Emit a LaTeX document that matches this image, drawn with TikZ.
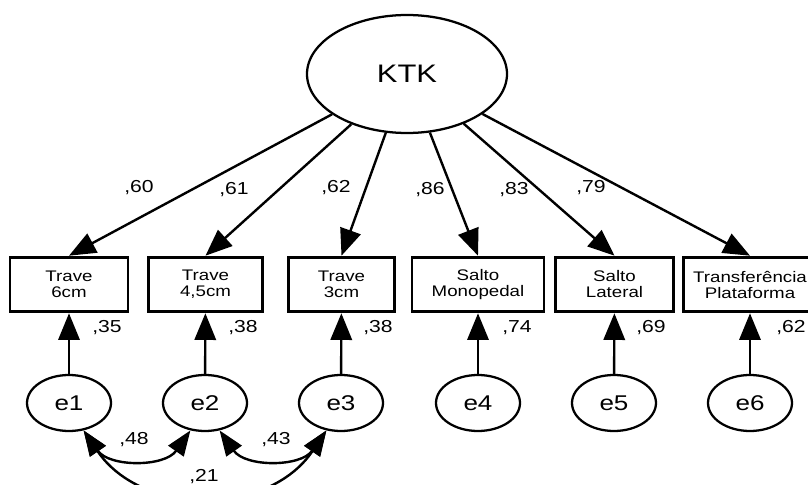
\documentclass[tikz,border=0pt]{standalone}
\usepackage{fontspec}
\setmainfont{Liberation Sans}[FakeStretch=1.22]
\usetikzlibrary{arrows.meta,shapes.geometric}

\begin{document}
\begin{tikzpicture}[x=0.75pt,y=-0.75pt,
  latent/.style={ellipse,draw,line width=1.7pt,inner sep=0pt},
  obs/.style={rectangle,draw,line width=2.2pt,minimum height=41pt,inner sep=0pt,align=center,font=\fontsize{11.5}{12}\selectfont},
  err/.style={ellipse,draw,line width=1.7pt,minimum width=63pt,minimum height=42pt,inner sep=0pt,font=\fontsize{16}{18}\selectfont},
  loading/.style={line width=1.8pt,-{Triangle[length=20pt,width=16pt]}},
  cov/.style={line width=1.8pt,{Triangle[length=19pt,width=14pt]}-{Triangle[length=19pt,width=14pt]}},
  coef/.style={font=\fontsize{13}{14}\selectfont,inner sep=0pt}]
\useasboundingbox (0,0) rectangle (808,485);

\node[latent,minimum width=150pt,minimum height=88.5pt,font=\fontsize{19}{20}\selectfont] (KTK) at (407,74) {KTK};

\node[obs,minimum width=88.5pt] (trave6) at (69,284.5) {Trave\\6cm};
\node[obs,minimum width=85pt] (trave45) at (205.5,284.5) {Trave\\4,5cm};
\node[obs,minimum width=79pt] (trave3) at (341.5,284.5) {Trave\\3cm};
\node[obs,minimum width=99pt] (saltomono) at (478,284.5) {Salto\\Monopedal};
\node[obs,minimum width=88pt] (saltolat) at (614.5,284.5) {Salto\\Lateral};
\node[obs,minimum width=100pt] (transf) at (750,284.5) {Transferência\\Plataforma};

\node[err] (e1) at (69,403) {e1};
\node[err] (e2) at (205,403) {e2};
\node[err] (e3) at (341,403) {e3};
\node[err] (e4) at (478,403) {e4};
\node[err] (e5) at (614,403) {e5};
\node[err] (e6) at (750,403) {e6};

% factor loadings
\draw[loading] (KTK) -- (trave6.north);
\draw[loading] (KTK) -- (trave45.north);
\draw[loading] (KTK) -- (trave3.north);
\draw[loading] (KTK) -- (saltomono.north);
\draw[loading] (KTK) -- (saltolat.north);
\draw[loading] (KTK) -- (transf.north);
\node[coef] (l1) at (139,188) {,60};
\node[coef] (l2) at (234,190) {,61};
\node[coef] (l3) at (336,188) {,62};
\node[coef] (l4) at (430,190) {,86};
\node[coef] (l5) at (514,190) {,83};
\node[coef] (l6) at (591,188) {,79};

% errors
\draw[loading] (e1) -- (trave6);
\draw[loading] (e2) -- (trave45);
\draw[loading] (e3) -- (trave3);
\draw[loading] (e4) -- (saltomono);
\draw[loading] (e5) -- (saltolat);
\draw[loading] (e6) -- (transf);
\node[coef,anchor=west] (r1) at (92,328) {,35};
\node[coef,anchor=west] (r2) at (228,328) {,38};
\node[coef,anchor=west] (r3) at (363,328) {,38};
\node[coef,anchor=west] (r4) at (502,328) {,74};
\node[coef,anchor=west] (r5) at (636,328) {,69};
\node[coef,anchor=west] (r6) at (776,328) {,62};

% covariances
\draw[cov] (e1.-62) to[out=-55,in=-125,looseness=1.08] (e2.-118);
\draw[cov] (e2.-62) to[out=-55,in=-125,looseness=1.08] (e3.-118);
\draw[cov] (e1.-62) to[out=-56,in=-124,looseness=1.1] (e3.-118);
\node[coef] (c12) at (134,440) {,48};
\node[coef] (c23) at (276,440) {,43};
\node[coef] (c13) at (204,477) {,21};

\end{tikzpicture}
\end{document}
